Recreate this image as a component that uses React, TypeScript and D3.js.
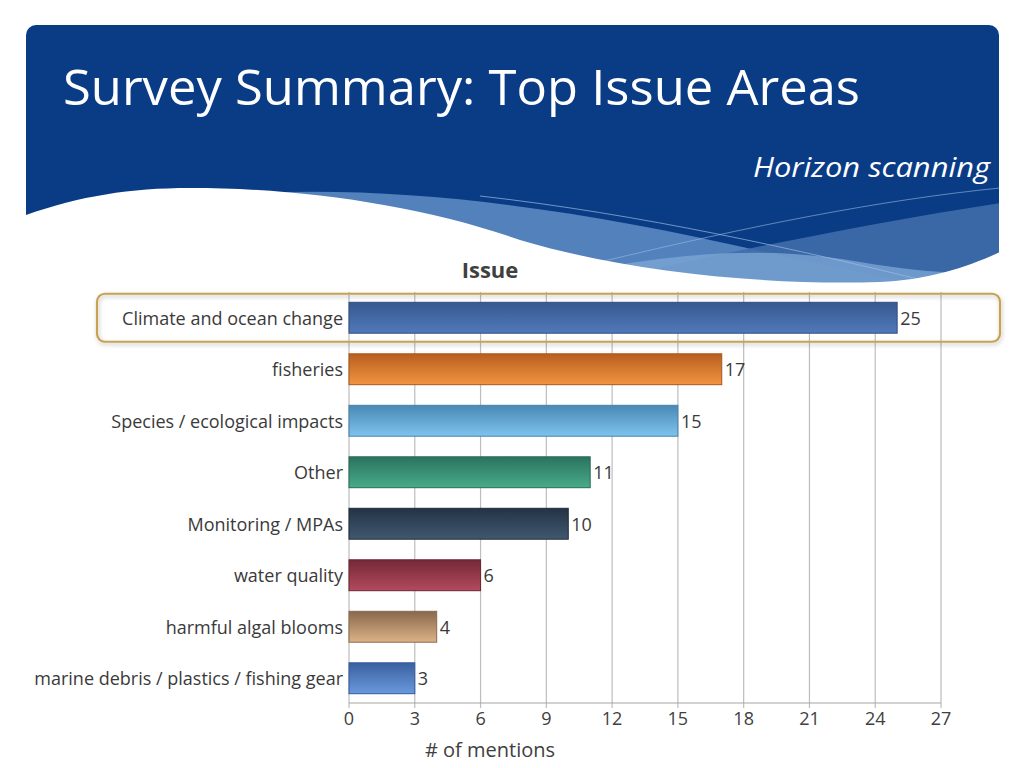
import React from 'react';
import * as d3 from 'd3';

const categories = [
  'Climate and ocean change',
  'fisheries',
  'Species / ecological impacts',
  'Other',
  'Monitoring / MPAs',
  'water quality',
  'harmful algal blooms',
  'marine debris / plastics / fishing gear',
];
const mentions = [25, 17, 15, 11, 10, 6, 4, 3];
const xTicks = [0, 3, 6, 9, 12, 15, 18, 21, 24, 27];
const barTop = ['#375890', '#B85F20', '#4A88B6', '#2A735C', '#243345', '#742838', '#8A684C', '#3A60A0'];
const barBottom = ['#5079BA', '#F29440', '#7EC4EE', '#48AB8A', '#405870', '#B44A5E', '#DCB288', '#6A9ADC'];
const barStroke = ['#2E4C80', '#A8561C', '#4A7FA8', '#2A6A55', '#1E2A38', '#6A2432', '#8A6A4E', '#34589A'];

const title = 'Survey Summary: Top Issue Areas';
const subtitle = 'Horizon scanning';
const chartTitle = 'Issue';
const axisTitle = '# of mentions';

const FONT = "'Open Sans', 'DejaVu Sans', sans-serif";

export default function App() {
  const x = d3.scaleLinear().domain([0, 27]).range([349, 941]);
  const y = d3.scaleBand<string>().domain(categories).range([292, 704]).paddingInner(0.4).paddingOuter(0.2);
  const axisY = 703;
  const gridTop = 292;
  const highlight = categories[0];
  const hy = (y(highlight) as number) + y.bandwidth() / 2;

  return (
    <svg width={1024} height={768} style={{ position: 'absolute', left: 0, top: 0, background: '#fff' }} fontFamily={FONT}>
      <defs>
        <clipPath id="hdr">
          <rect x={26} y={25} width={973} height={500} rx={10} />
        </clipPath>
        {categories.map((c, i) => (
          <linearGradient key={c} id={`g${i}`} x1="0" y1="0" x2="0" y2="1">
            <stop offset="0%" stopColor={barTop[i]} />
            <stop offset="100%" stopColor={barBottom[i]} />
          </linearGradient>
        ))}
        <filter id="shadow" x="-5%" y="-30%" width="110%" height="160%">
          <feDropShadow dx="1" dy="2" stdDeviation="2" floodColor="#000" floodOpacity="0.25" />
        </filter>
      </defs>

      {/* header */}
      <g clipPath="url(#hdr)">
        <path d="M 0,0 L 1024,0 L 1024,300 L 0,300 Z" fill="#0A3C86" />
        <path d="M 260,193 C 420,186 600,212 790,258 L 1000,300 L 260,300 Z" fill="#5281BC" />
        <path d="M 560,290 C 700,258 850,226 1000,203 L 1000,300 Z" fill="#3F6CAA" opacity={0.9} />
        <path d="M 600,268 C 700,250 780,248 860,262 C 920,272 960,275 1000,270 L 1000,300 L 600,300 Z" fill="#7BA5D5" opacity={0.8} />
        <path d="M 480,196 C 640,214 800,250 930,282" fill="none" stroke="#9DBBE2" strokeWidth={1} opacity={0.7} />
        <path d="M 600,262 C 750,226 880,200 1000,188" fill="none" stroke="#9DBBE2" strokeWidth={1} opacity={0.6} />
      </g>
      <path d="M 0,219 L 26,215 C 80,196 130,188 190,188 C 300,188 420,205 520,240 C 620,270 760,286 880,282 C 930,280 970,266 1000,252 L 1024,245 L 1024,320 L 0,320 Z" fill="#fff" />
      <text x={63} y={105} fill="#fff" fontSize={50} textLength={797} lengthAdjust="spacingAndGlyphs">{title}</text>
      <text x={990} y={177} fill="#fff" fontSize={28} fontStyle="italic" textAnchor="end" textLength={237} lengthAdjust="spacingAndGlyphs">{subtitle}</text>

      {/* chart title */}
      <text x={490} y={278} fill="#404040" fontSize={22} fontWeight="bold" textAnchor="middle">{chartTitle}</text>

      {/* grid */}
      {xTicks.map((t) => (
        <g key={t}>
          <line x1={x(t)} x2={x(t)} y1={gridTop} y2={axisY + 5} stroke="#BDBDBD" strokeWidth={1.2} />
          <text x={x(t)} y={725} fill="#404040" fontSize={18} textAnchor="middle">{t}</text>
        </g>
      ))}
      <line x1={x(0)} x2={x(27)} y1={axisY} y2={axisY} stroke="#A6A6A6" strokeWidth={1.2} />

      {/* highlight box */}
      <rect x={97} y={hy - 24} width={903} height={48} rx={8} fill="none" stroke="#C7A252" strokeWidth={2.2} filter="url(#shadow)" />

      {/* bars */}
      {categories.map((c, i) => {
        const by = y(c) as number;
        const bw = y.bandwidth();
        return (
          <g key={c}>
            <rect x={x(0)} y={by} width={x(mentions[i]) - x(0)} height={bw} fill={`url(#g${i})`} stroke={barStroke[i]} strokeWidth={1} />
            <text x={343} y={by + bw / 2} fill="#3A3A3A" fontSize={18} textAnchor="end" dominantBaseline="central">{c}</text>
            <text x={x(mentions[i]) + 3} y={by + bw / 2} fill="#3A3A3A" fontSize={18} dominantBaseline="central">{mentions[i]}</text>
          </g>
        );
      })}

      <text x={490} y={757} fill="#404040" fontSize={20} textAnchor="middle">{axisTitle}</text>
    </svg>
  );
}
